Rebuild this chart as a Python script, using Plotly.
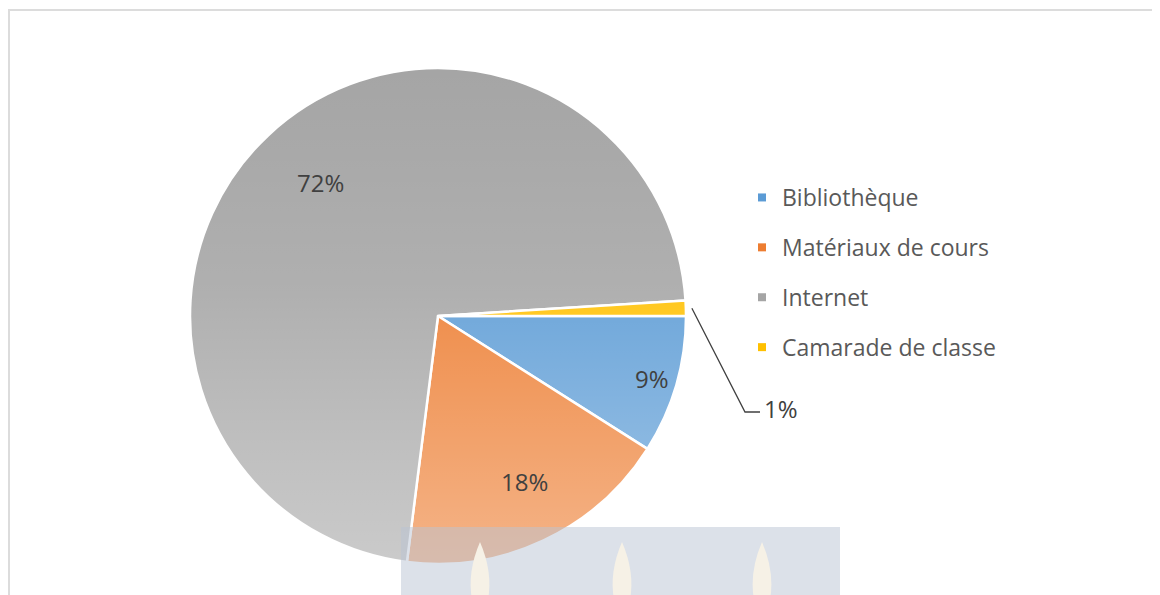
import base64
import math
import plotly.graph_objects as go

labels = ["Bibliothèque", "Matériaux de cours", "Internet", "Camarade de classe"]
values = [9, 18, 72, 1]
colors = ["#5B9BD5", "#ED7D31", "#A5A5A5", "#FFC000"]

W, H = 1160, 595
OFF = 8  # default page margin of the html body
cx, cy, R = 438, 316, 248  # pie geometry in page pixels
label_rf = [0.9, 0.82, 0.84, None]  # radial position of inside labels (fraction of R)
FONT = "Open Sans, Noto Sans, sans-serif"


def px(x):
    return (x - OFF) / W


def py(y):
    return 1 - (y - OFF) / H


fig = go.Figure()
fig.add_trace(go.Pie(
    labels=labels, values=values, sort=False, direction="clockwise", rotation=90,
    marker=dict(colors=colors, line=dict(color="white", width=2.5)),
    textinfo="none",
    domain=dict(x=[px(cx - R), px(cx + R)], y=[py(cy + R), py(cy - R)]),
    showlegend=False, hoverinfo="label+percent",
))

# legend entries
for lab, col in zip(labels, colors):
    fig.add_trace(go.Scatter(x=[None], y=[None], mode="markers", name=lab,
                             legendgroup=lab, hoverinfo="skip",
                             marker=dict(symbol="square", size=8, color=col)))

# percentage labels, placed from the data (mid angle of each slice)
total = sum(values)
annotations = []
cum = 0
mids = []
for v in values:
    mids.append((cum + v / 2) / total * 360)
    cum += v
for v, a, rf in zip(values, mids, label_rf):
    if rf is None:
        continue
    t = math.radians(a)
    x = cx + rf * R * math.cos(t)
    y = cy + rf * R * math.sin(t)
    annotations.append(dict(xref="paper", yref="paper", x=px(x), y=py(y),
                            text=f"{v}%", showarrow=False,
                            font=dict(family=FONT, size=24, color="#404040")))

# small slice: outside label with leader line
t = math.radians(mids[3])
sx, sy = cx + R * math.cos(t) + 6, cy + R * math.sin(t)
annotations.append(dict(xref="paper", yref="paper", x=px(762), y=py(408),
                        text=f"{values[3]}%", showarrow=False, xanchor="left",
                        yanchor="middle", font=dict(family=FONT, size=24, color="#404040")))

# soft vertical shading over the pie (Office-style gradient fill)
svg = ('<svg xmlns="http://www.w3.org/2000/svg" width="100" height="100" '
       'viewBox="0 0 100 100" preserveAspectRatio="none"><defs>'
       '<linearGradient id="g" x1="0" y1="0" x2="0" y2="1">'
       '<stop offset="0" stop-color="#ffffff" stop-opacity="0"/>'
       '<stop offset="0.45" stop-color="#ffffff" stop-opacity="0.12"/>'
       '<stop offset="1" stop-color="#ffffff" stop-opacity="0.42"/>'
       '</linearGradient></defs><rect width="100" height="100" fill="url(#g)"/></svg>')
src = "data:image/svg+xml;base64," + base64.b64encode(svg.encode()).decode()

# watermark flames
flames = []
for fx in (480, 622, 762):
    flames.append(dict(
        type="path", xref="paper", yref="paper", layer="above",
        path=(f"M {px(fx)},{py(542)} Q {px(fx + 13)},{py(572)} {px(fx + 8)},{py(600)} "
              f"L {px(fx - 8)},{py(600)} Q {px(fx - 13)},{py(572)} {px(fx)},{py(542)} Z"),
        fillcolor="#f6f1e6", line=dict(width=0)))

fig.update_layout(
    width=W, height=H, margin=dict(l=0, r=0, t=0, b=0),
    paper_bgcolor="white", plot_bgcolor="white",
    xaxis=dict(visible=False), yaxis=dict(visible=False),
    legend=dict(x=px(742), y=py(176), xanchor="left", yanchor="top",
                tracegroupgap=17, itemsizing="trace",
                font=dict(family=FONT, size=23, color="#595959")),
    images=[dict(source=src, xref="paper", yref="paper",
                 x=px(cx - R), y=py(cy - R), sizex=2 * R / W, sizey=2 * R / H,
                 xanchor="left", yanchor="top", sizing="stretch", layer="above")],
    shapes=[
        dict(type="rect", xref="paper", yref="paper", x0=px(9), x1=1.02, y0=-0.02, y1=py(10),
             line=dict(color="#dcdcdc", width=2), fillcolor="rgba(0,0,0,0)", layer="below"),
        dict(type="path", xref="paper", yref="paper",
             path=f"M {px(sx)},{py(sy)} L {px(745)},{py(412)} L {px(760)},{py(412)}",
             line=dict(color="#404040", width=1.3)),
        dict(type="rect", xref="paper", yref="paper", x0=px(401), x1=px(840), y0=-0.02, y1=py(527),
             line=dict(width=0), fillcolor="rgba(185,195,212,0.5)", layer="above"),
    ] + flames,
    annotations=annotations,
)

fig.write_html("out.html")
